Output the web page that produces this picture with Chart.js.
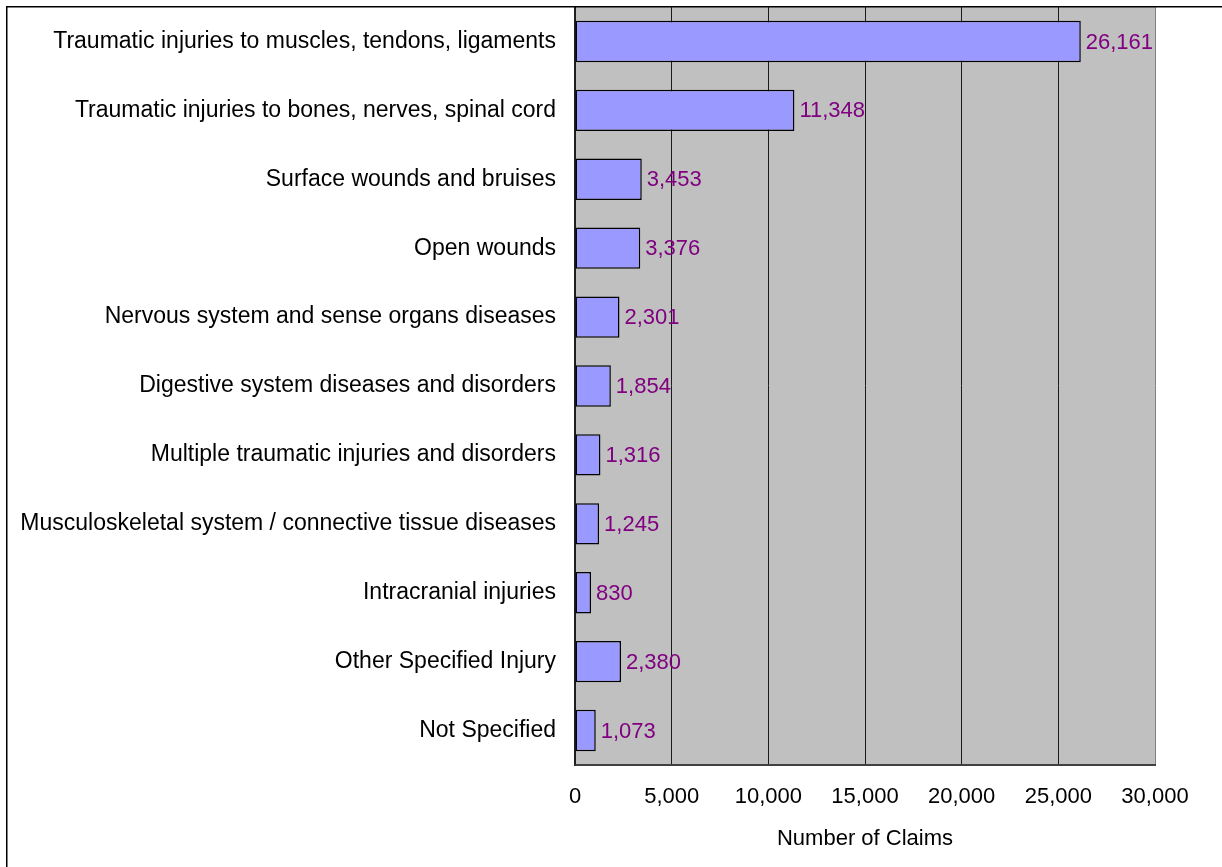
<!DOCTYPE html>
<html>
<head>
<meta charset="utf-8">
<title>Claims by Nature of Injury</title>
<script src="https://cdn.jsdelivr.net/npm/chart.js@4/dist/chart.umd.min.js"></script>
<style>
  html, body { margin: 0; padding: 0; background: #ffffff; }
  #chart { display: block; }
</style>
</head>
<body>
<canvas id="chart" width="1222" height="867"></canvas>
<script>
// Injury categories and claim counts
const categories = [
  "Traumatic injuries to muscles, tendons, ligaments",
  "Traumatic injuries to bones, nerves, spinal cord",
  "Surface wounds and bruises",
  "Open wounds",
  "Nervous system and sense organs diseases",
  "Digestive system diseases and disorders",
  "Multiple traumatic injuries and disorders",
  "Musculoskeletal system / connective tissue diseases",
  "Intracranial injuries",
  "Other Specified Injury",
  "Not Specified"
];
const claims = [26161, 11348, 3453, 3376, 2301, 1854, 1316, 1245, 830, 2380, 1073];

// Value axis range
const axisMin = 0;
const axisMax = 30000;
const axisStep = 5000;
const axisTitle = "Number of Claims";

const FONT = "'Liberation Sans', Arial, sans-serif";
const fmt = v => Number(v).toLocaleString('en-US');

// Grey plot background
const plotBackground = {
  id: 'plotBackground',
  beforeDraw(chart) {
    const { ctx, chartArea: a } = chart;
    ctx.save();
    ctx.fillStyle = '#c0c0c0';
    ctx.fillRect(a.left, a.top, a.right - a.left, a.bottom - a.top);
    ctx.restore();
  }
};

// Value labels at the end of each bar
const valueLabels = {
  id: 'valueLabels',
  afterDatasetsDraw(chart) {
    const { ctx } = chart;
    const meta = chart.getDatasetMeta(0);
    const data = chart.data.datasets[0].data;
    ctx.save();
    ctx.font = '22px ' + FONT;
    ctx.fillStyle = '#800080';
    ctx.textAlign = 'left';
    ctx.textBaseline = 'middle';
    meta.data.forEach((bar, i) => {
      ctx.fillText(fmt(data[i]), bar.x + 5, bar.y + 1);
    });
    ctx.restore();
  }
};

// Outer frame of the chart
const frame = {
  id: 'frame',
  afterDraw(chart) {
    const { ctx, width, height } = chart;
    ctx.save();
    ctx.strokeStyle = '#000000';
    ctx.lineWidth = 1.5;
    ctx.beginPath();
    ctx.moveTo(6.75, height);
    ctx.lineTo(6.75, 6.75);
    ctx.lineTo(width, 6.75);
    ctx.stroke();
    ctx.restore();
  }
};

new Chart(document.getElementById('chart'), {
  type: 'bar',
  data: {
    labels: categories,
    datasets: [{
      data: claims,
      backgroundColor: '#9999ff',
      borderColor: '#000000',
      borderWidth: 1.5,
      borderSkipped: false,
      barPercentage: 0.6,
      categoryPercentage: 1.0
    }]
  },
  options: {
    indexAxis: 'y',
    responsive: false,
    animation: false,
    devicePixelRatio: 1,
    layout: { padding: { top: 7, right: 67, left: 0, bottom: 0 } },
    plugins: {
      legend: { display: false },
      tooltip: { enabled: false },
      title: { display: false }
    },
    scales: {
      x: {
        type: 'linear',
        min: axisMin,
        max: axisMax,
        ticks: {
          stepSize: axisStep,
          color: '#000000',
          font: { family: FONT, size: 22 },
          padding: 19,
          callback: v => fmt(v)
        },
        grid: {
          drawTicks: false,
          lineWidth: 1,
          color: c => (c.tick && c.tick.value === axisMax) ? '#808080' : '#1a1a1a'
        },
        border: { display: true, color: '#404040', width: 2 },
        title: {
          display: true,
          text: axisTitle,
          color: '#000000',
          font: { family: FONT, size: 22 },
          padding: { top: 0, bottom: 15 }
        },
        afterFit(scale) { scale.height = 102; }
      },
      y: {
        ticks: {
          color: '#000000',
          font: { family: FONT, size: 23 },
          padding: 19,
          autoSkip: false
        },
        grid: { display: false, drawTicks: false },
        border: { display: true, color: '#202020', width: 1.5 },
        afterFit(scale) {
          scale.width = 575;
          scale.paddingTop = 0;
          scale.paddingBottom = 0;
        }
      }
    }
  },
  plugins: [plotBackground, valueLabels, frame]
});
</script>
</body>
</html>
